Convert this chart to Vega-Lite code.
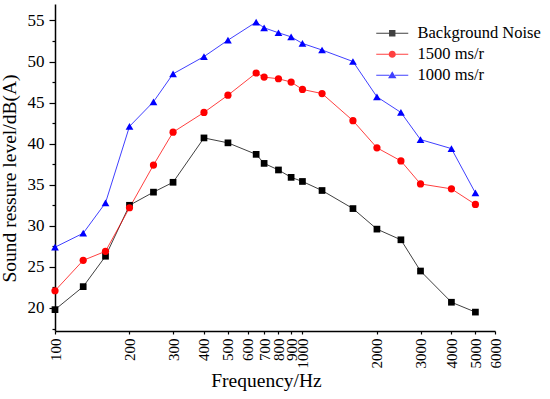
{
  "$schema": "https://vega.github.io/schema/vega-lite/v6.json",
  "width": 440,
  "height": 327,
  "autosize": {"type": "none"},
  "padding": {"left": 55, "top": 4, "right": 55, "bottom": 68},
  "background": "white",
  "config": {
    "view": {"stroke": null},
    "font": "Liberation Serif"
  },
  "data": {"values": [
    {"f": 100, "v": 19.8, "s": "Background Noise"},
    {"f": 130, "v": 22.6, "s": "Background Noise"},
    {"f": 160, "v": 26.3, "s": "Background Noise"},
    {"f": 200, "v": 32.5, "s": "Background Noise"},
    {"f": 250, "v": 34.1, "s": "Background Noise"},
    {"f": 300, "v": 35.3, "s": "Background Noise"},
    {"f": 400, "v": 40.7, "s": "Background Noise"},
    {"f": 500, "v": 40.1, "s": "Background Noise"},
    {"f": 650, "v": 38.7, "s": "Background Noise"},
    {"f": 700, "v": 37.6, "s": "Background Noise"},
    {"f": 800, "v": 36.8, "s": "Background Noise"},
    {"f": 900, "v": 35.9, "s": "Background Noise"},
    {"f": 1000, "v": 35.4, "s": "Background Noise"},
    {"f": 1200, "v": 34.3, "s": "Background Noise"},
    {"f": 1600, "v": 32.1, "s": "Background Noise"},
    {"f": 2000, "v": 29.6, "s": "Background Noise"},
    {"f": 2500, "v": 28.3, "s": "Background Noise"},
    {"f": 3000, "v": 24.5, "s": "Background Noise"},
    {"f": 4000, "v": 20.7, "s": "Background Noise"},
    {"f": 5000, "v": 19.5, "s": "Background Noise"},
    {"f": 100, "v": 22.1, "s": "1500 ms/r"},
    {"f": 130, "v": 25.8, "s": "1500 ms/r"},
    {"f": 160, "v": 26.9, "s": "1500 ms/r"},
    {"f": 200, "v": 32.2, "s": "1500 ms/r"},
    {"f": 250, "v": 37.4, "s": "1500 ms/r"},
    {"f": 300, "v": 41.4, "s": "1500 ms/r"},
    {"f": 400, "v": 43.8, "s": "1500 ms/r"},
    {"f": 500, "v": 45.9, "s": "1500 ms/r"},
    {"f": 650, "v": 48.6, "s": "1500 ms/r"},
    {"f": 700, "v": 48.1, "s": "1500 ms/r"},
    {"f": 800, "v": 47.9, "s": "1500 ms/r"},
    {"f": 900, "v": 47.5, "s": "1500 ms/r"},
    {"f": 1000, "v": 46.6, "s": "1500 ms/r"},
    {"f": 1200, "v": 46.1, "s": "1500 ms/r"},
    {"f": 1600, "v": 42.8, "s": "1500 ms/r"},
    {"f": 2000, "v": 39.5, "s": "1500 ms/r"},
    {"f": 2500, "v": 37.9, "s": "1500 ms/r"},
    {"f": 3000, "v": 35.1, "s": "1500 ms/r"},
    {"f": 4000, "v": 34.5, "s": "1500 ms/r"},
    {"f": 5000, "v": 32.6, "s": "1500 ms/r"},
    {"f": 100, "v": 27.4, "s": "1000 ms/r"},
    {"f": 130, "v": 29.1, "s": "1000 ms/r"},
    {"f": 160, "v": 32.8, "s": "1000 ms/r"},
    {"f": 200, "v": 42.1, "s": "1000 ms/r"},
    {"f": 250, "v": 45.1, "s": "1000 ms/r"},
    {"f": 300, "v": 48.5, "s": "1000 ms/r"},
    {"f": 400, "v": 50.6, "s": "1000 ms/r"},
    {"f": 500, "v": 52.6, "s": "1000 ms/r"},
    {"f": 650, "v": 54.8, "s": "1000 ms/r"},
    {"f": 700, "v": 54.1, "s": "1000 ms/r"},
    {"f": 800, "v": 53.5, "s": "1000 ms/r"},
    {"f": 900, "v": 53.0, "s": "1000 ms/r"},
    {"f": 1000, "v": 52.2, "s": "1000 ms/r"},
    {"f": 1200, "v": 51.4, "s": "1000 ms/r"},
    {"f": 1600, "v": 50.0, "s": "1000 ms/r"},
    {"f": 2000, "v": 45.7, "s": "1000 ms/r"},
    {"f": 2500, "v": 43.8, "s": "1000 ms/r"},
    {"f": 3000, "v": 40.5, "s": "1000 ms/r"},
    {"f": 4000, "v": 39.4, "s": "1000 ms/r"},
    {"f": 5000, "v": 34.0, "s": "1000 ms/r"}
  ]},
  "encoding": {
    "x": {
      "field": "f", "type": "quantitative",
      "scale": {"type": "log", "domain": [100, 6000], "nice": false},
      "axis": {
        "title": "Frequency/Hz", "format": "d",
        "titleFont": "Liberation Serif", "titleFontSize": 19.5, "titleFontWeight": "normal", "titleColor": "black",
        "titleX": 211, "titlePadding": 3,
        "values": [100, 200, 300, 400, 500, 600, 700, 800, 900, 1000, 2000, 3000, 4000, 5000, 6000],
        "labelAngle": 270, "labelFont": "Liberation Serif", "labelFontSize": 15, "labelColor": "black",
        "labelOverlap": false, "labelFlush": false, "labelPadding": 4,
        "grid": false, "domainColor": "black", "domainWidth": 1.5,
        "tickColor": "black", "tickSize": 3, "tickWidth": 1.2
      }
    },
    "y": {
      "field": "v", "type": "quantitative",
      "scale": {"domain": [17.2, 57], "nice": false, "zero": false},
      "axis": {
        "title": "Sound ressure level/dB(A)",
        "titleFont": "Liberation Serif", "titleFontSize": 19.5, "titleFontWeight": "normal", "titleColor": "black",
        "titlePadding": 8, "titleY": 174,
        "values": [17.5, 20, 22.5, 25, 27.5, 30, 32.5, 35, 37.5, 40, 42.5, 45, 47.5, 50, 52.5, 55],
        "labelExpr": "datum.value % 5 === 0 ? datum.label : ''",
        "labelFont": "Liberation Serif", "labelFontSize": 17, "labelColor": "black", "labelPadding": 5,
        "grid": false, "domainColor": "black", "domainWidth": 1.5,
        "tickColor": "black", "tickWidth": 1.2,
        "tickSize": {"condition": {"test": "datum.value % 5 !== 0", "value": 3}, "value": 6}
      }
    },
    "color": {
      "field": "s", "type": "nominal",
      "scale": {"domain": ["Background Noise", "1500 ms/r", "1000 ms/r"], "range": ["#000000", "#ff0000", "#0000ff"]},
      "legend": {
        "title": null, "orient": "none", "legendX": 329, "legendY": 21, "padding": 0,
        "labelFont": "Liberation Serif", "labelFontSize": 16.5, "labelColor": "black",
        "symbolSize": 64, "labelOffset": 17, "rowPadding": 4, "symbolStrokeWidth": 0,
        "symbolType": {"expr": "datum.value === 'Background Noise' ? 'M-4,-0.12H-0.8V0.12H-4ZM0.8,-0.12H4V0.12H0.8ZM-0.8,-0.8H0.8V0.8H-0.8Z' : datum.value === '1500 ms/r' ? 'M-4,-0.12H-0.9V0.12H-4ZM0.9,-0.12H4V0.12H0.9ZM-0.9,0A0.9,0.9 0 1,1 0.9,0A0.9,0.9 0 1,1 -0.9,0Z' : 'M-4,-0.12H-0.7V0.12H-4ZM0.7,-0.12H4V0.12H0.7ZM0,-1L1.05,0.75H-1.05Z'"},
        "encode": {"symbols": {"update": {
          "fill": {"signal": "scale('color', datum.value)"},
          "opacity": {"value": 1}
        }}}
      }
    }
  },
  "layer": [
    {"mark": {"type": "line", "strokeWidth": 1, "opacity": 0.75}},
    {
      "transform": [{"filter": "datum.s === 'Background Noise'"}],
      "mark": {"type": "point", "filled": true, "opacity": 1, "shape": "square", "size": 45}
    },
    {
      "transform": [{"filter": "datum.s === '1500 ms/r'"}],
      "mark": {"type": "point", "filled": true, "opacity": 1, "shape": "circle", "size": 52}
    },
    {
      "transform": [{"filter": "datum.s === '1000 ms/r'"}],
      "mark": {"type": "point", "filled": true, "opacity": 1, "shape": "triangle-up", "size": 60}
    }
  ]
}
